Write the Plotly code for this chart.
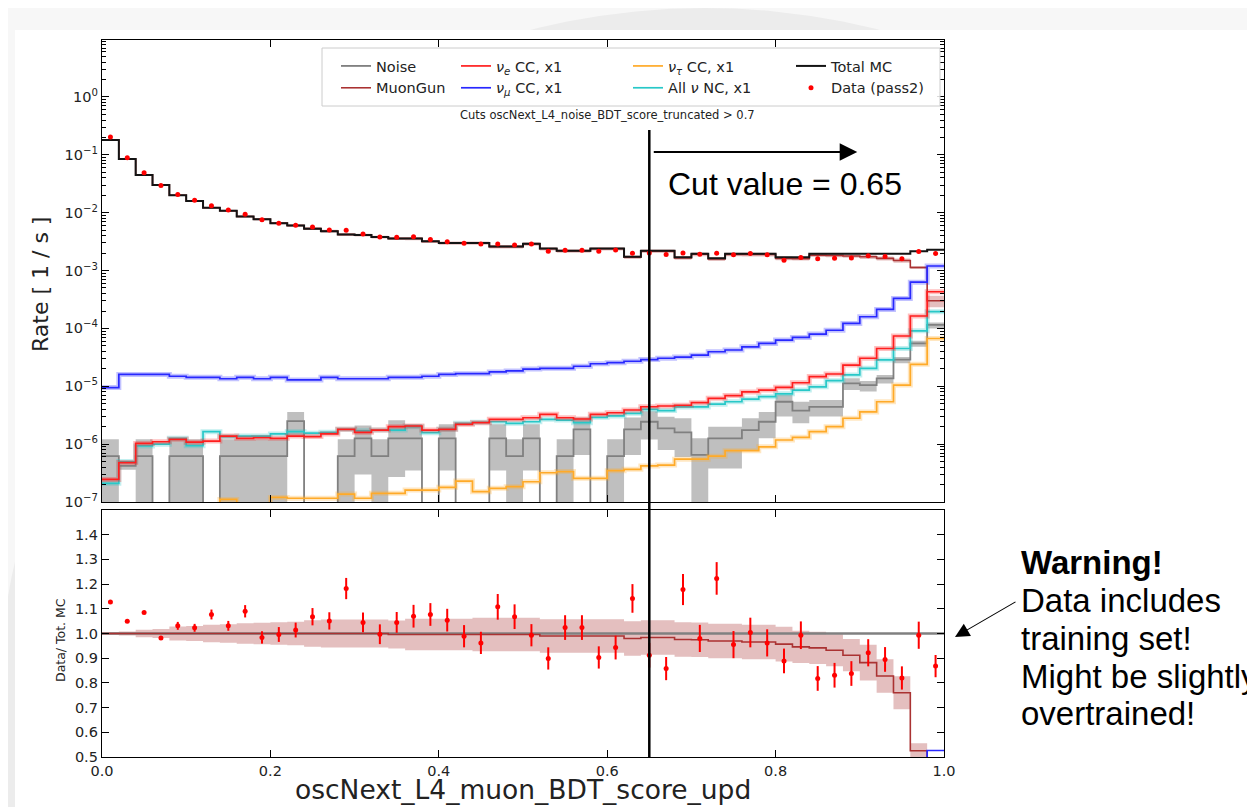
import plotly.graph_objects as go

# ---------------- data ----------------
bin_edges = [round(0.02 * i, 2) for i in range(51)]
bin_centers = [round(0.02 * i + 0.01, 2) for i in range(50)]

total_mc = [0.18, 0.085, 0.045, 0.030, 0.020, 0.016, 0.0122, 0.0108, 0.0086, 0.0077,
            0.0066, 0.0060, 0.0053, 0.0048, 0.0042, 0.0041, 0.0038, 0.0036, 0.0036, 0.0032,
            0.0030, 0.0030, 0.0030, 0.0026, 0.0026, 0.0029, 0.0024, 0.0022, 0.0022, 0.0024,
            0.0024, 0.00174, 0.0022, 0.0022, 0.0017, 0.00196, 0.00163, 0.00196, 0.00196, 0.00196,
            0.0017, 0.0017, 0.00196, 0.00196, 0.00196, 0.00196, 0.00196, 0.00196, 0.00215, 0.00228]

muongun = [0.18, 0.085, 0.045, 0.030, 0.020, 0.016, 0.0122, 0.0108, 0.0086, 0.0077,
           0.0066, 0.0060, 0.0053, 0.0048, 0.0042, 0.0041, 0.0038, 0.003586, 0.003586, 0.003187,
           0.002988, 0.002988, 0.002988, 0.00259, 0.00259, 0.002888, 0.002376, 0.002178, 0.002178, 0.002376,
           0.002376, 0.001705, 0.002165, 0.002165, 0.001659, 0.001911, 0.001581, 0.001901, 0.001893, 0.001893,
           0.001627, 0.001608, 0.001846, 0.001827, 0.001788, 0.001729, 0.001623, 0.00149, 0.00113, 0.00030]

# half width of the MuonGun uncertainty band, in Data/Tot.MC units
muongun_band = [0.006, 0.008, 0.015, 0.018, 0.028, 0.03, 0.035, 0.037, 0.042, 0.044,
                0.046, 0.048, 0.054, 0.057, 0.057, 0.057, 0.057, 0.057, 0.064, 0.064,
                0.064, 0.064, 0.068, 0.068, 0.068, 0.068, 0.068, 0.068, 0.068, 0.068,
                0.068, 0.07, 0.07, 0.07, 0.07, 0.07, 0.07, 0.07, 0.07, 0.07,
                0.07, 0.065, 0.065, 0.065, 0.065, 0.072, 0.068, 0.067, 0.03, 0.03]

noise = [6.2e-7, 4.2e-7, 6.2e-7, 0, 6.2e-7, 6.2e-7, 0, 6.2e-7, 6.2e-7, 6.2e-7,
         6.2e-7, 2.5e-6, 0, 0, 6.2e-7, 1.26e-6, 6.2e-7, 1.26e-6, 1.26e-6, 0,
         1.26e-6, 0, 0, 1.26e-6, 6.2e-7, 1.26e-6, 0, 6.2e-7, 1.8e-6, 0,
         6.2e-7, 1.8e-6, 2.44e-6, 1.88e-6, 1.6e-6, 6.5e-7, 1.26e-6, 1.26e-6, 1.75e-6, 2.44e-6,
         5.4e-6, 3.8e-6, 4.4e-6, 4.4e-6, 1.12e-5, 1.05e-5, 1.37e-5, 2.9e-5, 5.5e-5, 1.15e-4]
noise_lo = [0, 3.6e-7, 0, 0, 0, 0, 0, 0, 0, 0,
            0, 1.4e-6, 0, 0, 0, 3e-7, 0, 2.7e-7, 3.5e-7, 0,
            3.5e-7, 0, 0, 3.5e-7, 0, 3.5e-7, 0, 0, 6.5e-7, 0,
            0, 6.5e-7, 1.2e-6, 7.9e-7, 6e-7, 0, 3.8e-7, 3.8e-7, 7.9e-7, 1.26e-6,
            3.0e-6, 2.3e-6, 3.0e-6, 3.0e-6, 8.6e-6, 8.1e-6, 1.12e-5, 2.5e-5, 4.8e-5, 1.0e-4]
noise_hi = [1.22e-6, 4.8e-7, 1.22e-6, 0, 1.22e-6, 1.22e-6, 0, 1.22e-6, 1.22e-6, 1.22e-6,
            1.22e-6, 3.6e-6, 0, 0, 1.22e-6, 2.1e-6, 1.22e-6, 2.6e-6, 2.2e-6, 0,
            2.2e-6, 0, 0, 2.2e-6, 1.22e-6, 2.2e-6, 0, 1.22e-6, 2.9e-6, 0,
            1.22e-6, 2.9e-6, 3.7e-6, 2.98e-6, 2.8e-6, 1.26e-6, 2.0e-6, 2.0e-6, 2.8e-6, 3.6e-6,
            7.1e-6, 5.4e-6, 5.8e-6, 5.8e-6, 1.37e-5, 1.23e-5, 1.57e-5, 3.2e-5, 6.1e-5, 1.26e-4]

nue_cc = [2.46e-7, 4.8e-7, 1.03e-6, 1.1e-6, 1.21e-6, 1.08e-6, 1.13e-6, 1.38e-6, 1.26e-6, 1.29e-6,
          1.26e-6, 1.38e-6, 1.35e-6, 1.5e-6, 1.8e-6, 1.6e-6, 1.75e-6, 2.0e-6, 2.06e-6, 1.75e-6,
          1.8e-6, 2.2e-6, 2.35e-6, 2.68e-6, 2.68e-6, 2.86e-6, 3.28e-6, 2.86e-6, 2.72e-6, 3.28e-6,
          3.49e-6, 3.89e-6, 4.43e-6, 4.56e-6, 4.7e-6, 5.2e-6, 6.2e-6, 6.9e-6, 8.0e-6, 8.6e-6,
          9.6e-6, 1.15e-5, 1.47e-5, 1.63e-5, 2.33e-5, 3.05e-5, 4.5e-5, 7.4e-5, 1.64e-4, 4.3e-4]

numu_cc = [9.5e-6, 1.6e-5, 1.6e-5, 1.6e-5, 1.49e-5, 1.43e-5, 1.43e-5, 1.35e-5, 1.43e-5, 1.35e-5,
           1.43e-5, 1.29e-5, 1.29e-5, 1.43e-5, 1.35e-5, 1.35e-5, 1.35e-5, 1.43e-5, 1.43e-5, 1.49e-5,
           1.6e-5, 1.65e-5, 1.65e-5, 1.77e-5, 1.84e-5, 1.98e-5, 2.04e-5, 2.04e-5, 2.22e-5, 2.45e-5,
           2.56e-5, 2.71e-5, 2.9e-5, 3.05e-5, 3.2e-5, 3.45e-5, 3.95e-5, 4.24e-5, 4.8e-5, 5.5e-5,
           6.3e-5, 7.0e-5, 8.0e-5, 9.3e-5, 1.22e-4, 1.59e-4, 2.13e-4, 3.3e-4, 6.3e-4, 1.2e-3]

nutau_cc = [5e-8, 5e-8, 5e-8, 5e-8, 5e-8, 5e-8, 5e-8, 1.11e-7, 5e-8, 5e-8,
            1.2e-7, 1.16e-7, 1.16e-7, 1.16e-7, 1.37e-7, 1.16e-7, 1.41e-7, 1.41e-7, 1.61e-7, 1.61e-7,
            1.79e-7, 2.3e-7, 1.51e-7, 1.72e-7, 1.84e-7, 2.24e-7, 3.2e-7, 3.35e-7, 2.57e-7, 2.57e-7,
            3.48e-7, 3.67e-7, 4.2e-7, 4.35e-7, 5.5e-7, 5.5e-7, 6.2e-7, 7.7e-7, 7.7e-7, 9.0e-7,
            1.18e-6, 1.31e-6, 1.64e-6, 2.0e-6, 2.8e-6, 3.6e-6, 5.4e-6, 1.05e-5, 2.4e-5, 6.7e-5]

nc_all = [2.1e-7, 5.0e-7, 9.3e-7, 1.0e-6, 1.26e-6, 9.4e-7, 1.64e-6, 1.35e-6, 1.38e-6, 1.38e-6,
          1.5e-6, 1.64e-6, 1.55e-6, 1.6e-6, 1.8e-6, 1.7e-6, 1.75e-6, 1.75e-6, 2.0e-6, 1.58e-6,
          1.8e-6, 2.29e-6, 2.38e-6, 2.44e-6, 2.29e-6, 2.44e-6, 2.68e-6, 2.61e-6, 2.35e-6, 2.91e-6,
          3.07e-6, 3.41e-6, 4.0e-6, 3.8e-6, 4.4e-6, 4.4e-6, 4.9e-6, 5.4e-6, 6.0e-6, 6.6e-6,
          7.4e-6, 8.6e-6, 9.8e-6, 1.25e-5, 1.57e-5, 2.04e-5, 2.85e-5, 4.5e-5, 9.1e-5, 1.95e-4]

data_ratio = [1.128, 1.05, 1.085, 0.982, 1.031, 1.023, 1.077, 1.031, 1.09, 0.984,
              0.996, 1.014, 1.068, 1.051, 1.182, 1.045, 0.997, 1.045, 1.07, 1.077,
              1.054, 0.989, 0.962, 1.108, 1.068, 0.993, 0.899, 1.024, 1.024, 0.903,
              0.943, 1.142, 0.912, 0.858, 1.178, 0.98, 1.223, 0.955, 1.004, 0.962,
              0.889, 0.993, 0.818, 0.831, 0.838, 0.922, 0.895, 0.82, 0.993, 0.868]
data_ratio_err = [0.004, 0.005, 0.006, 0.008, 0.016, 0.016, 0.02, 0.02, 0.025, 0.025,
                  0.03, 0.03, 0.035, 0.035, 0.043, 0.04, 0.04, 0.042, 0.046, 0.046,
                  0.046, 0.045, 0.045, 0.052, 0.05, 0.045, 0.045, 0.05, 0.05, 0.045,
                  0.048, 0.058, 0.05, 0.047, 0.063, 0.055, 0.066, 0.055, 0.06, 0.055,
                  0.05, 0.056, 0.05, 0.05, 0.05, 0.055, 0.05, 0.047, 0.055, 0.045]

y_tick_vals = [1e-7, 1e-6, 1e-5, 1e-4, 1e-3, 1e-2, 1e-1, 1e0]
y_tick_text = ["10<sup>\u22127</sup>", "10<sup>\u22126</sup>", "10<sup>\u22125</sup>", "10<sup>\u22124</sup>",
               "10<sup>\u22123</sup>", "10<sup>\u22122</sup>", "10<sup>\u22121</sup>", "10<sup>0</sup>"]
ratio_tick_vals = [0.5, 0.6, 0.7, 0.8, 0.9, 1.0, 1.1, 1.2, 1.3, 1.4]
x_tick_vals = [0.0, 0.2, 0.4, 0.6, 0.8, 1.0]
cut_value = 0.65

# ---------------- helpers ----------------
LOG_FLOOR = 1e-9


def stepy(v):
    return list(v) + [v[-1]]


def pos(v):
    return [a if a > 0 else LOG_FLOOR for a in v]


W, H = 1255, 807
OFF = 8  # page body margin of the html page


def px(xp):
    return (xp - OFF) / W


def py(yp):
    return (H - (yp - OFF)) / H


FONT = "DejaVu Sans"
SLIDE_FONT = "Liberation Sans, Arial"

fig = go.Figure()


def step_line(y, color, width, xa="x", ya="y", name=None, legend=None, rank=None, opacity=1.0):
    fig.add_trace(go.Scatter(
        x=bin_edges, y=stepy(y), mode="lines", line_shape="hv",
        line=dict(color=color, width=width), opacity=opacity,
        xaxis=xa, yaxis=ya, name=name or "", showlegend=name is not None,
        legend=legend or "legend", legendrank=rank or 1000, hoverinfo="skip"))


def band(lo, hi, fillcolor, xa="x", ya="y"):
    fig.add_trace(go.Scatter(x=bin_edges, y=stepy(lo), mode="lines", line_shape="hv",
                             line=dict(width=0, color="rgba(0,0,0,0)"), xaxis=xa, yaxis=ya,
                             showlegend=False, hoverinfo="skip"))
    fig.add_trace(go.Scatter(x=bin_edges, y=stepy(hi), mode="lines", line_shape="hv",
                             line=dict(width=0, color="rgba(0,0,0,0)"), fill="tonexty",
                             fillcolor=fillcolor, xaxis=xa, yaxis=ya,
                             showlegend=False, hoverinfo="skip"))


# ---------------- upper panel ----------------
band(pos(noise_lo), pos(noise_hi), "rgba(128,128,128,0.5)")
step_line(pos(noise), "rgb(128,128,128)", 1.8, name="Noise", legend="legend", rank=1)

mu_lo = [m - b * t for m, b, t in zip(muongun, muongun_band, total_mc)]
mu_hi = [m + b * t for m, b, t in zip(muongun, muongun_band, total_mc)]
band(mu_lo, mu_hi, "rgba(165,42,42,0.3)")
step_line(muongun, "rgb(170,50,50)", 1.6, name="MuonGun", legend="legend", rank=2)

comps = [
    (nutau_cc, "rgb(255,170,40)", "<i>\u03bd</i><sub><i>\u03c4</i></sub> CC, x1", "legend3", 1),
    (nc_all, "rgb(40,200,200)", "All <i>\u03bd</i> NC, x1", "legend3", 2),
    (nue_cc, "rgb(255,30,30)", "<i>\u03bd</i><sub><i>e</i></sub> CC, x1", "legend2", 1),
    (numu_cc, "rgb(40,40,255)", "<i>\u03bd</i><sub><i>\u03bc</i></sub> CC, x1", "legend2", 2),
]
for vals, col, nm, lg, rk in comps:
    step_line(vals, col, 5, opacity=0.28)
    step_line(vals, col, 1.7, name=nm, legend=lg, rank=rk)

step_line(total_mc, "rgb(20,20,20)", 2.0, name="Total MC", legend="legend4", rank=1)

data_rate = [r * t for r, t in zip(data_ratio, total_mc)]
data_rate_err = [e * t for e, t in zip(data_ratio_err, total_mc)]
fig.add_trace(go.Scatter(
    x=bin_centers, y=data_rate, mode="markers", name="Data (pass2)",
    marker=dict(color="rgb(255,0,0)", size=5),
    error_y=dict(type="data", array=data_rate_err, color="rgb(255,0,0)", thickness=1.5, width=0),
    xaxis="x", yaxis="y", legend="legend4", legendrank=2, hoverinfo="skip"))

# ---------------- lower panel ----------------
mu_ratio = [m / t for m, t in zip(muongun, total_mc)]
band([r - b for r, b in zip(mu_ratio, muongun_band)],
     [r + b for r, b in zip(mu_ratio, muongun_band)],
     "rgba(165,42,42,0.3)", xa="x2", ya="y2")
step_line([t / t for t in total_mc], "rgb(128,128,128)", 2.5, xa="x2", ya="y2")
step_line(mu_ratio, "rgb(170,50,50)", 1.6, xa="x2", ya="y2")
step_line([n / t for n, t in zip(numu_cc, total_mc)], "rgb(40,40,255)", 1.7, xa="x2", ya="y2")
fig.add_trace(go.Scatter(
    x=bin_centers, y=data_ratio, mode="markers",
    marker=dict(color="rgb(255,0,0)", size=5),
    error_y=dict(type="data", array=data_ratio_err, color="rgb(255,0,0)", thickness=2, width=0),
    xaxis="x2", yaxis="y2", showlegend=False, hoverinfo="skip"))

# ---------------- layout ----------------
xdom = [px(102), px(944)]
axis_common = dict(showline=True, linecolor="black", linewidth=1.3, mirror="ticks",
                   ticks="inside", tickcolor="black", ticklen=7, tickwidth=1.2,
                   showgrid=False, zeroline=False,
                   tickfont=dict(family=FONT, size=14.5, color="#222"))

minor_log = [k * 10 ** e for e in range(-7, 1) for k in range(2, 10)]

fig.update_layout(
    width=W, height=H, margin=dict(l=0, r=0, t=0, b=0),
    paper_bgcolor="white", plot_bgcolor="white", template="none",
    font=dict(family=FONT, color="black"),
    xaxis=dict(domain=xdom, range=[0, 1], anchor="y", tickvals=x_tick_vals,
               showticklabels=False, **axis_common),
    yaxis=dict(domain=[py(502), py(40)], type="log", range=[-7, 0.985], anchor="x",
               tickmode="array", tickvals=y_tick_vals, ticktext=y_tick_text,
               minor=dict(tickmode="array", tickvals=minor_log, ticks="inside",
                          ticklen=4, tickcolor="black", tickwidth=1),
               **axis_common),
    xaxis2=dict(domain=xdom, range=[0, 1], anchor="y2", matches="x", tickvals=x_tick_vals,
                tickformat=".1f", **axis_common),
    yaxis2=dict(domain=[py(757), py(510)], range=[0.5, 1.5], anchor="x2",
                tickvals=ratio_tick_vals, tickformat=".1f", **axis_common),
)

leg_common = dict(bgcolor="rgba(0,0,0,0)", borderwidth=0, orientation="v",
                  xanchor="left", yanchor="top", traceorder="normal",
                  font=dict(family=FONT, size=14.5, color="#222"), tracegroupgap=0)
leg_y = py(50)
fig.update_layout(
    legend=dict(x=px(336), y=leg_y, **leg_common),
    legend2=dict(x=px(456), y=leg_y, **leg_common),
    legend3=dict(x=px(628), y=leg_y, **leg_common),
    legend4=dict(x=px(791), y=leg_y, **leg_common),
)

shapes = [
    # faint slide background above the figure
    dict(type="rect", xref="paper", yref="paper", x0=0, x1=1, y0=0, y1=1,
         fillcolor="#f7f7f7", line=dict(width=0), layer="below"),
    dict(type="circle", xref="paper", yref="paper", x0=px(705 - 707), x1=px(705 + 707),
         y0=py(8 + 2 * 707), y1=py(8), fillcolor="#ececec", line=dict(width=0), layer="below"),
    dict(type="rect", xref="paper", yref="paper", x0=px(15), x1=1.0, y0=0, y1=py(30),
         fillcolor="white", line=dict(width=0), layer="below"),
    # legend frame
    dict(type="rect", xref="paper", yref="paper", x0=px(322), x1=px(940), y0=py(106), y1=py(48),
         fillcolor="rgba(255,255,255,0.85)", line=dict(color="#cccccc", width=1), layer="above"),
    # cut line
    dict(type="line", xref="x", yref="paper", x0=cut_value, x1=cut_value, y0=py(757), y1=py(130),
         line=dict(color="black", width=2.5), layer="above"),
]
fig.update_layout(shapes=shapes)


def txt(text, x, y, size, family=FONT, xanchor="center", angle=0, color="#222"):
    return dict(text=text, x=px(x), y=py(y), xref="paper", yref="paper", xanchor=xanchor,
                yanchor="middle", textangle=angle, showarrow=False,
                font=dict(family=family, size=size, color=color))


ann = [
    txt("Cuts oscNext_L4_noise_BDT_score_truncated > 0.7", 607, 115, 11.5),
    txt("Rate [ 1 / s ]", 40, 285, 22, angle=-90),
    txt("Data/ Tot. MC", 60, 640, 12.5, angle=-90),
    txt("oscNext_L4_muon_BDT_score_upd", 523, 789, 26.5),
    txt("Cut value = 0.65", 666, 184, 32, family=SLIDE_FONT, xanchor="left", color="black"),
    txt("<b>Warning!</b>", 1019, 562, 33, family=SLIDE_FONT, xanchor="left", color="black"),
    txt("Data includes", 1019, 600, 33, family=SLIDE_FONT, xanchor="left", color="black"),
    txt("training set!", 1019, 638, 33, family=SLIDE_FONT, xanchor="left", color="black"),
    txt("Might be slightly", 1019, 676, 33, family=SLIDE_FONT, xanchor="left", color="black"),
    txt("overtrained!", 1019, 713, 33, family=SLIDE_FONT, xanchor="left", color="black"),
    # arrow to the right of the cut line
    dict(text="", x=0.897, y=py(152), xref="x", yref="paper", ax=-205, ay=0,
         axref="pixel", ayref="pixel", showarrow=True, arrowhead=2, arrowsize=1.6,
         arrowwidth=2.2, arrowcolor="black"),
    # warning arrow
    dict(text="", x=px(955), y=py(637), xref="paper", yref="paper", ax=62, ay=-36,
         axref="pixel", ayref="pixel", showarrow=True, arrowhead=2, arrowsize=2.6,
         arrowwidth=1.1, arrowcolor="black"),
]
fig.update_layout(annotations=ann)

fig.write_html("out.html")
